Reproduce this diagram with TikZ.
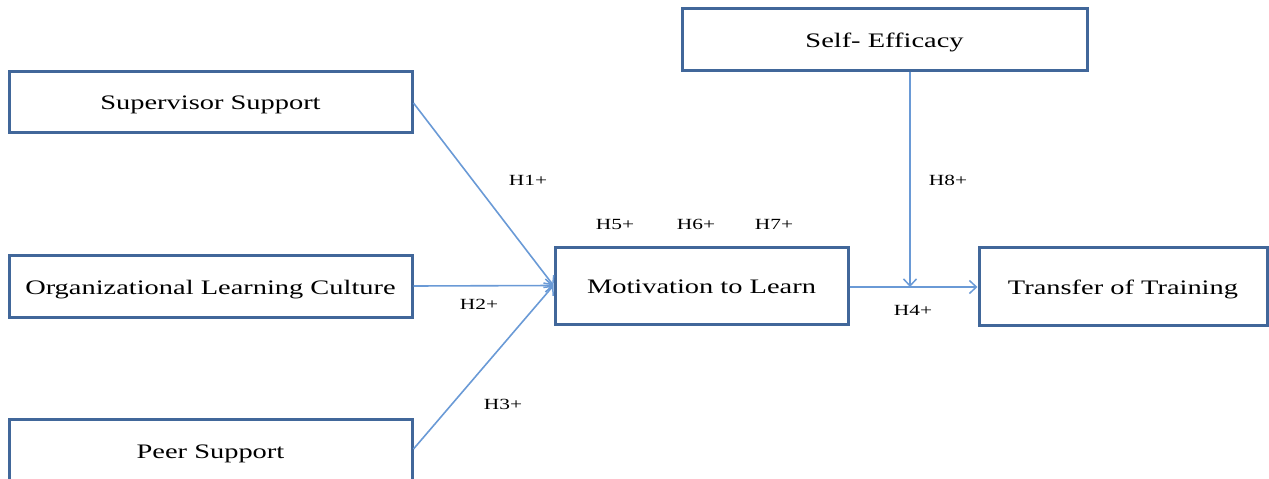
\documentclass[tikz,border=0pt]{standalone}
\usepackage{fontspec}
\setmainfont{Liberation Serif}[FakeStretch=1.38]
\usetikzlibrary{arrows.meta}
\definecolor{boxblue}{HTML}{41679A}
\definecolor{linkblue}{HTML}{6A9AD6}
\begin{document}
\begin{tikzpicture}[x=1pt,y=-1pt,
  box/.style={draw=boxblue,line width=3pt,rectangle,inner sep=0pt,text height=16pt,text depth=0pt,font=\fontsize{20.6}{23}\selectfont},
  link/.style={draw=linkblue,line width=1.6pt,-{Straight Barb[length=7pt,width=13pt,line width=1.5pt]}},
  hlab/.style={font=\fontsize{15.5}{17}\selectfont,inner sep=0pt}]
\useasboundingbox (0,0) rectangle (1269,479);
\node[box,minimum width=403pt,minimum height=61pt] (sup) at (210.5,101.5) {Supervisor Support};
\node[box,minimum width=403pt,minimum height=62pt] (olc) at (210.5,286) {Organizational Learning Culture};
\node[box,minimum width=403pt,minimum height=62pt] (peer) at (210.5,450) {Peer Support};
\node[box,minimum width=293pt,minimum height=77pt] (mot) at (701.5,285.5) {Motivation to Learn};
\node[box,minimum width=288pt,minimum height=78pt] (tot) at (1123,286) {Transfer of Training};
\node[box,minimum width=405pt,minimum height=62pt] (se) at (884.5,39) {Self- Efficacy};
\coordinate (mtin) at (mot.west);
\coordinate (join) at (910,287);
\draw[link] (sup.east |- 0,103) -- (mtin);
\draw[link] (olc.east) -- (mtin);
\draw[link] (peer.east |- 0,449) -- (mtin);
\draw[link] (mot.east |- join) -- (tot.west |- join);
\draw[link] (se.south -| join) -- (join);
\node[hlab] (h1) at (528,180) {H1+};
\node[hlab] (h2) at (479,304) {H2+};
\node[hlab] (h3) at (503,404) {H3+};
\node[hlab] (h5) at (615,224) {H5+};
\node[hlab] (h6) at (696,224) {H6+};
\node[hlab] (h7) at (774,224) {H7+};
\node[hlab] (h8) at (948,180) {H8+};
\node[hlab] (h4) at (913,310) {H4+};
\end{tikzpicture}
\end{document}
